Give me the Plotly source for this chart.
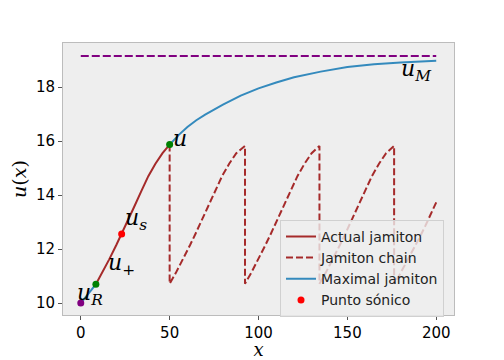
import plotly.graph_objects as go

# actual jamiton, from u_+ up to u
jam_x = [8.5, 12, 16, 20, 23, 26, 30, 34, 38, 42, 46, 50]
jam_u = [10.70, 11.12, 11.62, 12.15, 12.56, 12.98, 13.56, 14.14, 14.70, 15.16, 15.55, 15.87]

# maximal jamiton (hidden under the actual one between u_+ and u)
max_x = [0, 2, 4, 6, 8.5, None, 50, 55, 60, 65, 70, 80, 90, 100, 110, 120, 135, 150, 165, 180, 200]
max_u = [10.0, 10.15, 10.31, 10.49, 10.70, None, 15.87, 16.22, 16.52, 16.77, 16.98, 17.35, 17.68,
         17.95, 18.17, 18.36, 18.57, 18.74, 18.84, 18.91, 18.97]

# jamiton chain with its shocks
chain_x = [50, 50, 53.5, 57.5, 61.5, 64.5, 67.5, 71.5, 75.5, 79.5, 83.5, 87.5, 92.4,
           92.4, 95.9, 99.9, 103.9, 106.9, 109.9, 113.9, 117.9, 121.9, 125.9, 129.9, 134.3,
           134.3, 137.8, 141.8, 145.8, 148.8, 151.8, 155.8, 159.8, 163.8, 167.8, 171.8, 176.3,
           176.3, 179.8, 183.8, 187.8, 190.8, 193.8, 197.8, 200]
chain_u = [15.87, 10.72, 11.12, 11.62, 12.15, 12.56, 12.98, 13.56, 14.14, 14.70, 15.16, 15.55, 15.82,
           10.72, 11.12, 11.62, 12.15, 12.56, 12.98, 13.56, 14.14, 14.70, 15.16, 15.55, 15.82,
           10.72, 11.12, 11.62, 12.15, 12.56, 12.98, 13.56, 14.14, 14.70, 15.16, 15.55, 15.82,
           10.72, 11.10, 11.58, 12.08, 12.45, 12.85, 13.40, 13.73]

uM_x = [0, 200]
uM_u = [19.15, 19.15]

# special points
pts_x = [0, 8.5, 50]
pts_u = [10.0, 10.70, 15.87]
pts_color = ['purple', 'green', 'green']
sonic_x = [23]
sonic_u = [12.56]

labels = ['u<sub>R</sub>', 'u<sub>+</sub>', 'u<sub>s</sub>', 'u', 'u<sub>M</sub>']
label_x = [-3.5, 14, 23.5, 51, 198.5]
label_u = [10.33, 11.42, 13.1, 16.1, 18.63]
label_anchor = ['left', 'left', 'left', 'left', 'right']

BROWN = '#A52A2A'
BLUE = '#348ABD'

fig = go.Figure()

fig.add_trace(go.Scatter(x=uM_x, y=uM_u, mode='lines', showlegend=False,
                         line=dict(color='purple', width=2, dash='8px,3px')))
fig.add_trace(go.Scatter(x=jam_x, y=jam_u, mode='lines', name='Actual jamiton',
                         line=dict(color=BROWN, width=2)))
fig.add_trace(go.Scatter(x=chain_x, y=chain_u, mode='lines', name='Jamiton chain',
                         line=dict(color=BROWN, width=2, dash='7px,3px')))
fig.add_trace(go.Scatter(x=max_x, y=max_u, mode='lines', name='Maximal jamiton',
                         line=dict(color=BLUE, width=2)))
fig.add_trace(go.Scatter(x=pts_x, y=pts_u, mode='markers', showlegend=False,
                         marker=dict(color=pts_color, size=7)))
fig.add_trace(go.Scatter(x=sonic_x, y=sonic_u, mode='markers', name='Punto sónico',
                         marker=dict(color='red', size=7)))

for t, x, u, a in zip(labels, label_x, label_u, label_anchor):
    fig.add_annotation(x=x, y=u, text='<i>' + t + '</i>', showarrow=False,
                       xanchor=a, yanchor='middle',
                       font=dict(family='DejaVu Serif', size=22, color='black'))

# the page body adds an 8px offset, so the figure is drawn 8px smaller
fig.update_layout(
    width=496, height=352,
    margin=dict(l=55, r=50, t=35, b=45),
    paper_bgcolor='white',
    plot_bgcolor='#eeeeee',
    font=dict(family='DejaVu Sans', size=15, color='black'),
    legend=dict(x=0.555, y=0.35, xanchor='left', yanchor='top',
                bgcolor='rgba(238,238,238,0.8)', bordercolor='#d0d0d0', borderwidth=1,
                font=dict(size=14, color='#222222'), tracegroupgap=0),
)
fig.update_xaxes(range=[-10, 210], tickvals=[0, 50, 100, 150, 200], automargin=False,
                 showgrid=False, zeroline=False, showline=True, linecolor='#bcbcbc', mirror=True,
                 ticks='outside', ticklen=4, tickcolor='#555555',
                 title=dict(text='<i>x</i>', font=dict(family='DejaVu Serif', size=18), standoff=4))
fig.update_yaxes(range=[9.56, 19.63], tickvals=[10, 12, 14, 16, 18], automargin=False,
                 showgrid=False, zeroline=False, showline=True, linecolor='#bcbcbc', mirror=True,
                 ticks='outside', ticklen=4, tickcolor='#555555',
                 title=dict(text='<i>u</i>(<i>x</i>)', font=dict(family='DejaVu Serif', size=19), standoff=8))

fig.write_html("out.html")
